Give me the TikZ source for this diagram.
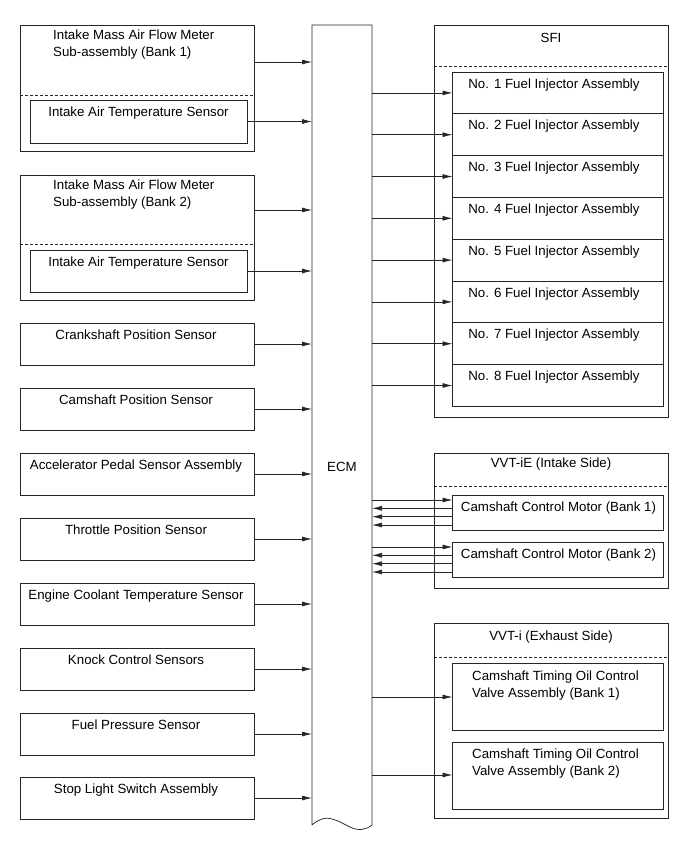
\documentclass[tikz,border=0pt]{standalone}
\usepackage{fontspec}
\setmainfont{Liberation Sans}
\usetikzlibrary{arrows.meta}
\tikzset{
  ln/.style={draw=black!85, line width=0.75pt},
  box/.style={ln, inner sep=0pt, outer sep=0pt, anchor=north west},
  dashln/.style={draw=black!85, line width=0.75pt, dash pattern=on 3pt off 2pt},
  arr/.style={draw=black!85, line width=0.75pt, -{Latex[length=10pt,width=5pt]}},
  txt/.style={font=\fontsize{13.3}{17}\selectfont, inner sep=0pt, anchor=base},
  txtl/.style={font=\fontsize{13.3}{17}\selectfont, inner sep=0pt, anchor=base west, align=left},
}
\begin{document}
\begin{tikzpicture}[x=1pt,y=-1pt]
\useasboundingbox (0,0) rectangle (689,854);

% ECM
\node[inner sep=0pt, outer sep=0pt, minimum width=60pt, minimum height=800pt, anchor=north west] (ecm) at (312,25) {};
\draw[ln] (ecm.south west) -- (ecm.north west) -- (ecm.north east) -- (ecm.south east)
  .. controls (366,830) and (358,831) .. (350,827)
  .. controls (340,822) and (330,816) .. (322,819)
  .. controls (317,821) and (314,823) .. (ecm.south west);
\node[txt, anchor=center] (ecmt) at (342,467) {ECM};

% ---------- Left column ----------
% MAF bank 1
\node[box, minimum width=234pt, minimum height=126pt] (mafA) at (20,25) {};
\draw[dashln] ([yshift=-70pt]mafA.north west) -- ([yshift=-70pt]mafA.north east);
\node[txtl] (mafAt) at (53,56.5) {Intake Mass Air Flow Meter\\Sub-assembly (Bank 1)};
\node[box, minimum width=217pt, minimum height=43pt] (iatA) at (30,100) {};
\node[txt] (iatAt) at (138.5,116) {Intake Air Temperature Sensor};
\coordinate (mafAo) at ([yshift=26pt]mafA.east);
\draw[arr] (mafAo) -- (mafAo -| ecm.west);
\draw[arr] (iatA.east) -- (iatA.east -| ecm.west);

% MAF bank 2
\node[box, minimum width=234pt, minimum height=125pt] (mafB) at (20,175) {};
\draw[dashln] ([yshift=-69pt]mafB.north west) -- ([yshift=-69pt]mafB.north east);
\node[txtl] (mafBt) at (53,206.5) {Intake Mass Air Flow Meter\\Sub-assembly (Bank 2)};
\node[box, minimum width=217pt, minimum height=42pt] (iatB) at (30,250) {};
\node[txt] (iatBt) at (138.5,266) {Intake Air Temperature Sensor};
\coordinate (mafBo) at ([yshift=27.5pt]mafB.east);
\draw[arr] (mafBo) -- (mafBo -| ecm.west);
\draw[arr] (iatB.east) -- (iatB.east -| ecm.west);

% single sensors
\foreach \n/\t/\s in {s1/323/Crankshaft Position Sensor,
                      s2/388/Camshaft Position Sensor,
                      s3/453/Accelerator Pedal Sensor Assembly,
                      s4/518/Throttle Position Sensor,
                      s5/583/Engine Coolant Temperature Sensor,
                      s6/648/Knock Control Sensors,
                      s7/713/Fuel Pressure Sensor,
                      s8/777/Stop Light Switch Assembly}{
  \node[box, minimum width=234pt, minimum height=42pt] (\n) at (20,\t) {};
  \node[txt] (\n t) at (136,\t+16.5) {\s};
  \draw[arr] (\n.east) -- (\n.east -| ecm.west);
}

% ---------- Right column ----------
% SFI
\node[box, minimum width=234pt, minimum height=392pt] (sfi) at (434,25) {};
\draw[dashln] ([yshift=-41.7pt]sfi.north west) -- ([yshift=-41.7pt]sfi.north east);
\node[txt] (sfit) at (551,42) {SFI};
\foreach \i in {1,...,8}{
  \pgfmathsetmacro{\tp}{72+(\i-1)*41.8}
  \node[box, minimum width=211pt, minimum height=41.8pt] (inj\i) at (452.5,\tp) {};
  \node[txt] (inj\i t) at (554,\tp+16) {No. \i\ Fuel Injector Assembly};
  \draw[arr] (inj\i.west -| ecm.east) -- (inj\i.west);
}

% VVT-iE
\node[box, minimum width=234pt, minimum height=135pt] (vie) at (434,453) {};
\draw[dashln] ([yshift=-33pt]vie.north west) -- ([yshift=-33pt]vie.north east);
\node[txt] (viet) at (551,467.5) {VVT-iE (Intake Side)};
\node[box, minimum width=211pt, minimum height=35pt] (cm1) at (452.5,495) {};
\node[txt] (cm1t) at (558.5,511.5) {Camshaft Control Motor (Bank 1)};
\node[box, minimum width=211pt, minimum height=35pt] (cm2) at (452.5,542) {};
\node[txt] (cm2t) at (558.5,558.5) {Camshaft Control Motor (Bank 2)};
\foreach \b in {cm1,cm2}{
  \coordinate (\b a) at ([yshift=12.5pt]\b.west);
  \coordinate (\b b) at ([yshift=4.2pt]\b.west);
  \coordinate (\b c) at ([yshift=-4.2pt]\b.west);
  \coordinate (\b d) at ([yshift=-12.5pt]\b.west);
  \draw[arr] (\b a -| ecm.east) -- (\b a);
  \draw[arr] (\b b) -- (\b b -| ecm.east);
  \draw[arr] (\b c) -- (\b c -| ecm.east);
  \draw[arr] (\b d) -- (\b d -| ecm.east);
}

% VVT-i
\node[box, minimum width=234pt, minimum height=195pt] (vi) at (434,623) {};
\draw[dashln] ([yshift=-34pt]vi.north west) -- ([yshift=-34pt]vi.north east);
\node[txt] (vit) at (551,640) {VVT-i (Exhaust Side)};
\node[box, minimum width=211pt, minimum height=67pt] (ov1) at (452.5,663) {};
\node[txtl] (ov1t) at (472,697) {Camshaft Timing Oil Control\\Valve Assembly (Bank 1)};
\node[box, minimum width=211pt, minimum height=67pt] (ov2) at (452.5,742) {};
\node[txtl] (ov2t) at (472,775) {Camshaft Timing Oil Control\\Valve Assembly (Bank 2)};
\coordinate (ov1a) at ([yshift=-0.5pt]ov1.west);
\coordinate (ov2a) at ([yshift=0.5pt]ov2.west);
\draw[arr] (ov1a -| ecm.east) -- (ov1a);
\draw[arr] (ov2a -| ecm.east) -- (ov2a);
\end{tikzpicture}
\end{document}
